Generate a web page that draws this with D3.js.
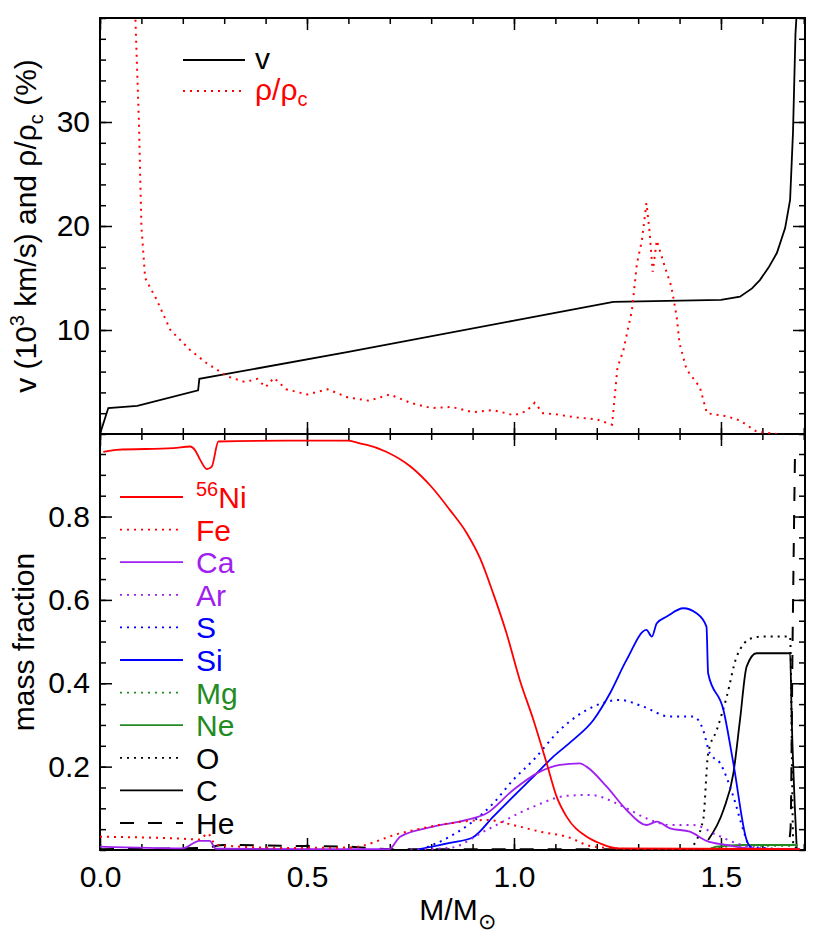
<!doctype html>
<html>
<head>
<meta charset="utf-8">
<style>
  body { margin: 0; background: #fff; }
  svg { font-family: "Liberation Sans", Arial, sans-serif; }
</style>
</head>
<body>
<div class="chart"></div>
<script src="https://d3js.org/d3.v7.min.js"></script>
<script>
// ---- data ----
let vel = [[0,0],[0.02,2.5],[0.09,2.7],[0.237,4.2],[0.24,5.3],[0.6,7.9],[1.0,10.9],[1.24,12.7],[1.5,12.9],
  [1.546,13.2],[1.575,14.0],[1.594,14.8],[1.615,16.0],[1.635,17.4],[1.655,19.8],[1.667,22.5],[1.674,29],[1.68,38.5],[1.683,41]];
let rho = [[0.085,41],[0.094,30],[0.10,20],[0.109,15],[0.137,12.9],[0.17,10],[0.217,8.1],[0.258,6.8],[0.31,5.5],
  [0.35,5],[0.38,5.3],[0.40,4.5],[0.42,5.4],[0.45,4.3],[0.5,3.8],[0.55,4.3],[0.6,3.5],[0.65,3.2],[0.7,3.8],
  [0.75,3.0],[0.8,2.5],[0.85,2.6],[0.9,2.1],[0.95,2.3],[1.0,1.8],[1.03,2.2],[1.05,3.0],[1.07,2.0],[1.1,1.9],
  [1.15,1.6],[1.2,1.4],[1.237,0.9],[1.25,6.4],[1.264,8],[1.285,11.9],[1.297,16.4],[1.309,18.6],[1.32,22.2],
  [1.328,19.3],[1.335,15.6],[1.345,18.6],[1.365,16],[1.38,14.2],[1.393,11.3],[1.40,8.7],[1.417,6.2],[1.449,4.5],
  [1.466,2],[1.514,1.7],[1.546,1.3],[1.587,0.2],[1.635,0]];

let ni = [[0.008,0.955],[0.04,0.96],[0.177,0.964],[0.218,0.968],[0.229,0.96],[0.242,0.936],[0.258,0.914],[0.27,0.92],
  [0.286,0.98],[0.45,0.982],[0.6,0.982],[0.63,0.975],[0.645,0.972],[0.69,0.956],[0.75,0.92],[0.8,0.872],
  [0.845,0.816],[0.886,0.76],[0.918,0.7],[0.95,0.615],[0.982,0.52],[1.014,0.408],[1.047,0.312],[1.079,0.208],
  [1.103,0.128],[1.127,0.08],[1.176,0.032],[1.208,0.016],[1.25,0.004],[1.69,0.002]];
let fe = [[0,0.032],[0.2,0.027],[0.242,0.025],[0.26,0.04],[0.28,0.012],[0.45,0.005],[0.604,0.006],[0.725,0.04],
  [0.845,0.064],[0.934,0.072],[0.998,0.06],[1.063,0.044],[1.127,0.032],[1.192,0.008],[1.3,0.002],[1.69,0.001]];
let ca = [[0,0.008],[0.2,0.004],[0.24,0.022],[0.265,0.022],[0.28,0.003],[0.698,0.002],[0.725,0.032],[0.805,0.056],
  [0.886,0.072],[0.934,0.088],[0.998,0.144],[1.063,0.188],[1.111,0.204],[1.159,0.208],[1.175,0.2],[1.224,0.152],
  [1.272,0.096],[1.32,0.06],[1.345,0.068],[1.377,0.052],[1.425,0.044],[1.465,0.022],[1.514,0.012],[1.57,0.004],[1.69,0.002]];
let ar = [[0.75,0.001],[0.845,0.005],[0.934,0.048],[1.047,0.104],[1.127,0.13],[1.184,0.132],[1.264,0.104],
  [1.32,0.076],[1.377,0.06],[1.433,0.06],[1.49,0.036],[1.538,0.016],[1.594,0.004],[1.69,0.001]];
let sS = [[0.774,0.001],[0.845,0.032],[0.95,0.112],[0.998,0.168],[1.047,0.216],[1.111,0.288],[1.192,0.344],
  [1.256,0.36],[1.312,0.344],[1.377,0.32],[1.433,0.32],[1.457,0.288],[1.473,0.232],[1.498,0.208],[1.53,0.128],
  [1.554,0.048],[1.57,0.008],[1.69,0.001]];
let si = [[0.766,0.001],[0.845,0.017],[0.9,0.03],[0.95,0.08],[0.998,0.128],[1.047,0.176],[1.095,0.224],[1.143,0.264],
  [1.192,0.312],[1.232,0.376],[1.272,0.456],[1.32,0.528],[1.333,0.512],[1.345,0.544],[1.369,0.56],[1.409,0.58],
  [1.441,0.568],[1.465,0.536],[1.469,0.424],[1.506,0.336],[1.53,0.208],[1.562,0.024],[1.578,0.002],[1.69,0.001]];
let mg = [[1.46,0],[1.49,0.006],[1.55,0.01],[1.685,0.01]];
let ne = [[1.469,0],[1.49,0.008],[1.55,0.012],[1.685,0.012]];
let ox = [[1.424,0],[1.457,0.072],[1.469,0.232],[1.49,0.288],[1.514,0.368],[1.538,0.464],[1.574,0.508],
  [1.602,0.512],[1.667,0.512],[1.675,0.008],[1.69,0.002]];
let cc = [[1.469,0.024],[1.506,0.096],[1.53,0.184],[1.546,0.312],[1.562,0.44],[1.586,0.472],[1.667,0.472],
  [1.671,0.312],[1.683,0.004]];
let he = [[0,0.002],[0.25,0.005],[0.3,0.012],[0.45,0.01],[0.6,0.008],[0.7,0.002],[1.66,0.002],[1.668,0.05],
  [1.673,0.5],[1.679,0.965]];

let topTicks = [10, 20, 30];
let botTicks = [0.2, 0.4, 0.6, 0.8];
let xTicks = [0.0, 0.5, 1.0, 1.5];

let species = [
  {name: "Ni", data: ni, color: "#ff0000", dash: null},
  {name: "Fe", data: fe, color: "#ff0000", dash: "2,5"},
  {name: "Ca", data: ca, color: "#a020f0", dash: null},
  {name: "Ar", data: ar, color: "#a020f0", dash: "2,5"},
  {name: "S", data: sS, color: "#0000ff", dash: "2,5"},
  {name: "Si", data: si, color: "#0000ff", dash: null},
  {name: "Mg", data: mg, color: "#228b22", dash: "2,5"},
  {name: "Ne", data: ne, color: "#228b22", dash: null},
  {name: "O", data: ox, color: "#000000", dash: "2,5"},
  {name: "C", data: cc, color: "#000000", dash: null},
  {name: "He", data: he, color: "#000000", dash: "14,14"}
];

// ---- layout ----
let width = 830, height = 934;
let left = 100, right = 805, top1 = 18, mid = 434, bot = 850;
let fs = 30;

let svg = d3.select(".chart").append("svg")
  .attr("width", width).attr("height", height);

let x = d3.scaleLinear().domain([0, 1.703]).range([left, right]);
let yTop = d3.scaleLinear().domain([0, 40]).range([mid, top1]);
let yBot = d3.scaleLinear().domain([0, 0.998]).range([bot, mid]);

let line = (ys, curve) => d3.line().x(d => x(d[0])).y(d => ys(Math.min(d[1], ys.domain()[1] + 0.5)))
  .curve(curve || d3.curveLinear);

function clip(id, y0, y1) {
  svg.append("clipPath").attr("id", id).append("rect")
    .attr("x", left).attr("y", y0).attr("width", right - left).attr("height", y1 - y0);
}
clip("c1", top1, mid);
clip("c2", mid, bot);

// ticks: inward, on all four sides
function frame(ys, major, minor, y0, y1, xLabels) {
  let g = svg.append("g");
  let styleAxis = sel => sel.call(s => s.select(".domain").remove())
    .selectAll("line").attr("stroke", "#000").attr("stroke-width", 1.5);
  g.append("g").attr("transform", `translate(${left},0)`)
    .call(d3.axisLeft(ys).tickValues(major).tickSize(-12).tickPadding(10).tickFormat(ys === yTop ? d3.format("d") : d3.format(".1f")))
    .call(styleAxis).selectAll("text").attr("font-size", fs).attr("fill", "#000").style("font-family", "Liberation Sans, Arial");
  g.append("g").attr("transform", `translate(${left},0)`)
    .call(d3.axisLeft(ys).tickValues(minor).tickSize(-6).tickFormat("")).call(styleAxis);
  g.append("g").attr("transform", `translate(${right},0)`)
    .call(d3.axisRight(ys).tickValues(major).tickSize(-12).tickFormat("")).call(styleAxis);
  g.append("g").attr("transform", `translate(${right},0)`)
    .call(d3.axisRight(ys).tickValues(minor).tickSize(-6).tickFormat("")).call(styleAxis);
  let xMinor = d3.range(0, 1.71, 0.1);
  g.append("g").attr("transform", `translate(0,${y1})`)
    .call(d3.axisBottom(x).tickValues(xTicks).tickSize(-12).tickPadding(16).tickFormat(xLabels ? d3.format(".1f") : ""))
    .call(styleAxis).selectAll("text").attr("font-size", fs).attr("fill", "#000").style("font-family", "Liberation Sans, Arial");
  g.append("g").attr("transform", `translate(0,${y1})`)
    .call(d3.axisBottom(x).tickValues(xMinor).tickSize(-6).tickFormat("")).call(styleAxis);
  g.append("g").attr("transform", `translate(0,${y0})`)
    .call(d3.axisTop(x).tickValues(xTicks).tickSize(-12).tickFormat("")).call(styleAxis);
  g.append("g").attr("transform", `translate(0,${y0})`)
    .call(d3.axisTop(x).tickValues(xMinor).tickSize(-6).tickFormat("")).call(styleAxis);
  g.append("rect").attr("x", left).attr("y", y0).attr("width", right - left).attr("height", y1 - y0)
    .attr("fill", "none").attr("stroke", "#000").attr("stroke-width", 2);
}

frame(yTop, topTicks, d3.range(0, 40.1, 2), top1, mid, false);
frame(yBot, botTicks, d3.range(0, 1.0, 0.05), mid, bot, true);

// top panel curves
let gTop = svg.append("g").attr("clip-path", "url(#c1)");
gTop.append("path").attr("d", line(yTop)(vel)).attr("fill", "none")
  .attr("stroke", "#000").attr("stroke-width", 1.8);
gTop.append("path").attr("d", line(yTop)(rho)).attr("fill", "none")
  .attr("stroke", "#ff0000").attr("stroke-width", 2).attr("stroke-dasharray", "2,5");

// bottom panel curves
let gBot = svg.append("g").attr("clip-path", "url(#c2)");
species.slice().reverse().forEach(s => {
  gBot.append("path").attr("d", line(yBot, d3.curveMonotoneX)(s.data)).attr("fill", "none")
    .attr("stroke", s.color).attr("stroke-width", s.dash ? 2 : 1.8)
    .attr("stroke-dasharray", s.dash);
});

// top legend
let lg1 = svg.append("g");
[["v", "#000", null], ["rho", "#ff0000", "2,5"]].forEach((d, i) => {
  let yy = 60 + i * 31;
  lg1.append("line").attr("x1", 183).attr("x2", 245).attr("y1", yy).attr("y2", yy)
    .attr("stroke", d[1]).attr("stroke-width", 1.8).attr("stroke-dasharray", d[2]);
  let t = lg1.append("text").attr("x", 255).attr("y", yy + 9).attr("font-size", fs).attr("fill", d[1]);
  if (i === 0) t.text("v");
  else {
    t.append("tspan").text("ρ/ρ");
    t.append("tspan").attr("font-size", 20).attr("dy", 6).text("c");
  }
});

// bottom legend
let lg2 = svg.append("g");
species.forEach((s, i) => {
  let yy = 497 + i * 32.6;
  lg2.append("line").attr("x1", 120).attr("x2", 183).attr("y1", yy).attr("y2", yy)
    .attr("stroke", s.color).attr("stroke-width", 1.8).attr("stroke-dasharray", s.dash);
  let t = lg2.append("text").attr("x", 196).attr("y", yy + 11).attr("font-size", fs).attr("fill", s.color);
  if (s.name === "Ni") {
    t.append("tspan").attr("font-size", 20).attr("dy", -12).text("56");
    t.append("tspan").attr("dy", 12).text("Ni");
  } else t.text(s.name);
});

// axis titles
let t1 = svg.append("text").attr("transform", `translate(36,${(top1 + mid) / 2}) rotate(-90)`)
  .attr("text-anchor", "middle").attr("font-size", fs);
t1.append("tspan").text("v (10");
t1.append("tspan").attr("font-size", 20).attr("dy", -12).text("3");
t1.append("tspan").attr("dy", 12).text(" km/s) and ρ/ρ");
t1.append("tspan").attr("font-size", 20).attr("dy", 7).text("c");
t1.append("tspan").attr("dy", -7).text(" (%)");

svg.append("text").attr("transform", `translate(34,${(mid + bot) / 2}) rotate(-90)`)
  .attr("text-anchor", "middle").attr("font-size", fs).text("mass fraction");

let t3 = svg.append("text").attr("x", (left + right) / 2 + 5).attr("y", 920)
  .attr("text-anchor", "middle").attr("font-size", fs);
t3.append("tspan").text("M/M");
t3.append("tspan").attr("font-size", 22).attr("dy", 9).text("⊙");
</script>
</body>
</html>
